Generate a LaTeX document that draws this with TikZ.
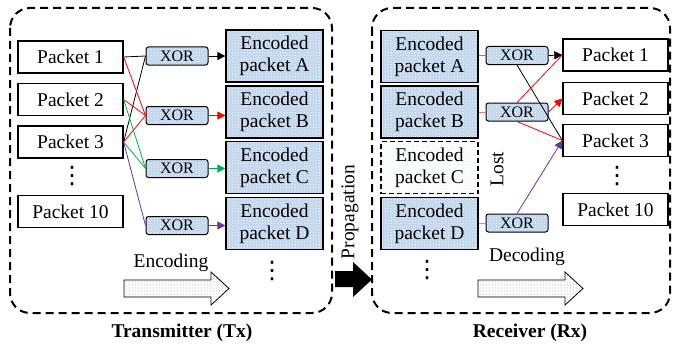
\documentclass[tikz,border=0pt]{standalone}
\usepackage{fontspec}
\setmainfont{Liberation Serif}
\newfontfamily\dotsfont{DejaVu Sans}
\usetikzlibrary{positioning,arrows.meta,patterns}
\definecolor{encblue}{RGB}{190,212,238}
\definecolor{codegreen}{RGB}{0,176,80}
\definecolor{codepurple}{RGB}{112,48,160}
\definecolor{lightred}{RGB}{255,120,120}
\definecolor{lightpurple}{RGB}{180,140,215}

\begin{document}
\begin{tikzpicture}[x=1pt,y=-1pt,font=\fontsize{19.5}{22}\selectfont]
\tikzstyle{every node}+=[inner sep=0pt]
\tikzstyle{pkt}=[draw,line width=1.3pt,minimum width=105pt,minimum height=32pt]
\tikzstyle{enc}=[draw,line width=1.3pt,minimum width=97pt,minimum height=52pt,align=center,preaction={fill=encblue},pattern=crosshatch dots,pattern color=white]
\tikzstyle{lostbox}=[draw,line width=1.3pt,dash pattern=on 5pt off 3pt,minimum width=97pt,minimum height=52pt,align=center,pattern=dots,pattern color=encblue]
\tikzstyle{xor}=[draw,line width=1pt,rounded corners=2.5pt,minimum width=62pt,minimum height=18pt,font=\fontsize{16}{18}\selectfont,preaction={fill=encblue},pattern=crosshatch dots,pattern color=white]
\tikzstyle{vdots}=[font=\fontsize{24}{24}\dotsfont]
\tikzstyle{frame}=[line width=2pt,dash pattern=on 8pt off 5pt,rounded corners=20pt]
\tikzstyle{link}=[line width=0.8pt]
\tikzstyle{tip}=[-{Triangle[length=8pt,width=8pt]}]
\useasboundingbox (0,0) rectangle (674,345);

% frames
\draw[frame] (10,8) rectangle (332,313);
\draw[frame] (372,8) rectangle (670,313);
\node[font=\fontsize{19.5}{22}\selectfont\bfseries] (txlabel) at (182,333) {Transmitter (Tx)};
\node[font=\fontsize{19.5}{22}\selectfont\bfseries] (rxlabel) at (530,333) {Receiver (Rx)};

% transmitter
\node[pkt] (p1) at (70.5,57) {Packet 1};
\node[pkt] (p2) at (70.5,99.5) {Packet 2};
\node[pkt] (p3) at (70.5,142) {Packet 3};
\node[vdots] (pdots) at (72,176) {⋮};
\node[pkt] (p10) at (70.5,211.5) {Packet 10};

\node[xor] (x1) at (177,56) {XOR};
\node[xor] (x2) at (177,115.5) {XOR};
\node[xor] (x3) at (177,168.5) {XOR};
\node[xor] (x4) at (177,225.5) {XOR};

\node[enc] (ea) at (274.5,56) {Encoded\\packet A};
\node[enc] (eb) at (274.5,112) {Encoded\\packet B};
\node[enc] (ec) at (274.5,167.5) {Encoded\\packet C};
\node[enc] (ed) at (274.5,223.5) {Encoded\\packet D};
\node[vdots] (edots) at (272,271) {⋮};

\draw[link] (p1.east) -- (x1.west);
\draw[link] (p3.east) -- (x1.west);
\draw[link,red] (p1.east) -- (x2.west);
\draw[link,red] (p2.east) -- (x2.west);
\draw[link,red] (p3.east) -- (x2.west);
\draw[link,codegreen] (p2.east) -- (x3.west);
\draw[link,codegreen] (p3.east) -- (x3.west);
\draw[link,codepurple] (p3.east) -- (x4.west);

\draw[link,tip] (x1.east) -- (x1.east -| ea.west);
\draw[link,tip,red] (x2.east) -- (x2.east -| eb.west);
\draw[link,tip,codegreen] (x3.east) -- (x3.east -| ec.west);
\draw[link,tip,codepurple] (x4.east) -- (x4.east -| ed.west);

\draw[line width=0.8pt,pattern=dots,pattern color=gray] (124,280) -- (211,280) -- (211,272) -- (229,288.5) -- (211,305) -- (211,297) -- (124,297) -- cycle;
\node (enclabel) at (171,263) {Encoding};

% propagation
\fill (335,271) -- (353,271) -- (353,262) -- (372,279.5) -- (353,297) -- (353,287) -- (335,287) -- cycle;
\node[rotate=90] (proplabel) at (350,212) {Propagation};

% receiver
\node[enc] (ra) at (429.5,56.5) {Encoded\\packet A};
\node[enc] (rb) at (429.5,112) {Encoded\\packet B};
\node[lostbox] (rc) at (429.5,167.5) {Encoded\\packet C};
\node[enc] (rd) at (429.5,223.5) {Encoded\\packet D};
\node[vdots] (rdots) at (427,270) {⋮};
\node[rotate=90] (lost) at (497,169) {Lost};

\node[xor] (y1) at (517,55.5) {XOR};
\node[xor] (y2) at (517,112) {XOR};
\node[xor] (y3) at (517,223) {XOR};

\node[pkt] (q1) at (615.5,55) {Packet 1};
\node[pkt] (q2) at (615.5,98.5) {Packet 2};
\node[pkt] (q3) at (615.5,140.5) {Packet 3};
\node[vdots] (qdots) at (617,176) {⋮};
\node[pkt] (q10) at (615.5,209.5) {Packet 10};

\draw[link,gray] (y1.west -| ra.east) -- (y1.west);
\draw[link,lightred] (y2.west -| rb.east) -- (y2.west);
\draw[link,lightpurple] (y3.west -| rd.east) -- (y3.west);

\draw[link,tip] (y1.east) -- (q1.west);
\draw[link] (y1.south) -- (q3.west);
\draw[link,red] (y2.north) -- (q1.west);
\draw[link,tip,red] (y2.east) -- (q2.west);
\draw[link,red] (y2.south) -- (q3.west);
\draw[link,tip,codepurple] (y3.north) -- (q3.west);

\draw[line width=0.8pt,pattern=dots,pattern color=gray] (478,280) -- (565,280) -- (565,272) -- (583,288.5) -- (565,305) -- (565,297) -- (478,297) -- cycle;
\node (declabel) at (527,257) {Decoding};
\end{tikzpicture}
\end{document}
